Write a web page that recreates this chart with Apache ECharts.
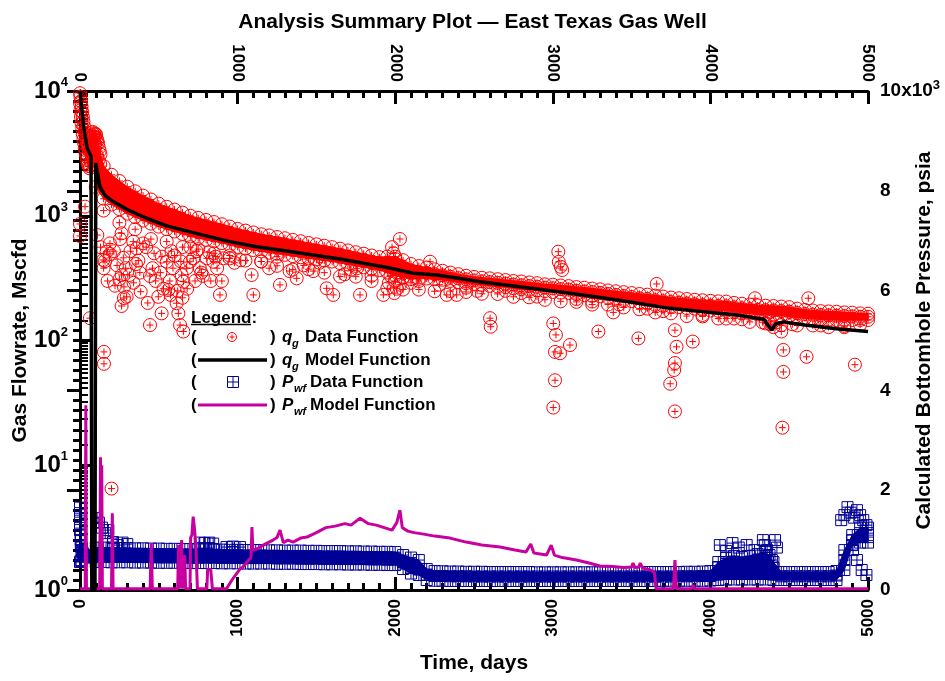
<!DOCTYPE html>
<html><head><meta charset="utf-8">
<script src="https://cdn.jsdelivr.net/npm/echarts@6/dist/echarts.min.js"></script>
<style>html,body{margin:0;padding:0;background:#fff}#c{width:945px;height:681px}</style>
</head><body><div id="c"></div>
<script>
// ---------------- data ----------------
const xTickValues = [0, 1000, 2000, 3000, 4000, 5000];
const leftTickExponents = ['0', '1', '2', '3', '4'];
const rightTickLabels = ['0', '2', '4', '6', '8', '10x10'];

// q_g data: dense band, 3 rows (upper, middle, lower) sampled every 50 days
const bandDays = [100,150,200,250,300,350,400,450,500,550,600,650,700,750,800,850,900,950,1000,1050,1100,1150,1200,1250,1300,1350,1400,1450,1500,1550,1600,1650,1700,1750,1800,1850,1900,1950,2000,2050,2100,2150,2200,2250,2300,2350,2400,2450,2500,2550,2600,2650,2700,2750,2800,2850,2900,2950,3000,3050,3100,3150,3200,3250,3300,3350,3400,3450,3500,3550,3600,3650,3700,3750,3800,3850,3900,3950,4000,4050,4100,4150,4200,4250,4300,4350,4400,4450,4500,4550,4600,4650,4700,4750,4800,4850,4900,4950,5000];
const qgTop = [4500,2500,2130,1900,1710,1570,1450,1350,1250,1180,1120,1060,1000,960,925,890,855,820,785,760,735,710,695,675,660,640,625,605,590,575,560,545,527,510,496,480,466,470,470,440,410,395,385,372,362,350,340,330,323,318,315,310,305,300,297,292,288,282,280,276,273,268,265,261,257,252,248,244,240,236,233,229,225,221,218,215,212,210,208,206,205,200,197,194,191,190,189,187,185,180,176,174,172,171,170,168,167,165,164];
const qgMid = [2800,1850,1620,1470,1330,1240,1150,1080,1010,960,915,870,825,795,770,745,718,690,665,645,625,607,593,580,566,551,539,525,513,501,490,477,463,449,438,425,414,405,395,375,357,350,348,340,333,324,316,309,303,298,294,290,286,281,277,273,270,265,262,258,256,251,247,244,241,236,232,227,223,218,215,210,206,203,201,198,195,192,190,189,188,184,181,178,176,175,174,172,170,166,163,161,160,159,158,157,156,155,155];
const qgLow = [1700,1370,1230,1130,1040,975,915,865,818,780,748,715,683,660,641,622,604,582,562,546,531,518,506,496,486,475,465,455,446,437,429,418,407,396,386,376,367,350,331,320,311,312,314,310,307,300,293,288,284,279,274,271,268,263,258,255,253,249,245,242,240,235,231,228,226,221,216,211,207,202,198,193,189,187,185,182,180,177,174,173,173,170,167,164,162,161,160,158,156,153,151,150,148,147,146,146,146,146,146];
// q_g data: fringe of points just below the dense band, every 100 days
const fringeDays = [150,250,350,450,550,650,750,850,950,1050,1150,1250,1350,1450,1550,1650,1750,1850,1950,2050,2150,2250,2350,2450,2550,2650,2750,2850,2950,3050,3150,3250,3350,3450,3550,3650,3750,3850,3950,4050,4150,4250,4350,4450,4550,4650,4750,4850,4950];
const qgFringe = [1100,880,780,650,620,560,540,500,455,437,430,397,370,373,350,326,325,300,262,256,256,248,249,245,237,236,224,222,212,206,204,194,194,184,178,168,165,157,156,150,150,141,137,133,132,132,128,131,134];
// q_g data: first days of production
const qgEarlyDays = [0,3,6,10,14,18,22,26,30,35,40,45,50,55,60,65,70,75,80,85,90,95];
const qgEarlyHigh = [9600,9000,8300,7500,6800,6200,5700,5200,4800,4400,4100,3800,3600,3400,3300,3500,3900,4200,4400,4300,4100,3800];
const qgEarlyLow = [8000,7000,6200,5500,5000,4500,4100,3800,3500,3200,3000,2800,2600,2500,2400,2500,2700,3000,3200,3000,2800,2600];
const qgRestartDays = [80,85,90,95,100,105,110,115,120,125,130,88,98,108,118,128];
const qgRestart = [4700,4500,4600,4300,4500,4200,4000,3800,3500,3300,3100,3400,3600,3000,2800,2600];
// q_g data: scattered points off the band
const qgOutDays = [0,0,32,63,152,152,200,159,190,314,279,279,169,148,264,254,338,360,370,264,222,296,264,385,444,550,497,560,575,613,518,624,444,635,656,656,645,677,698,719,804,846,910,888,1089,1100,1269,1375,1565,1607,1756,1777,2030,1925,2221,2327,2390,1980,1990,2000,2010,2020,2000,2010,1995,2030,2050,1970,1960,3035,3038,3050,3060,2602,2606,3003,3020,3014,3046,3109,3014,3003,3289,3384,3543,3659,3775,3785,3775,3770,3745,3775,3888,4283,4463,4463,4457,4610,4917,4621,4380,4400,4420,4450,
  420,470,520,580,600,640,700,740,760,780,820,860,900,950,980,1020,1150,1200,1250,1330,1420,1480,1520,1680,1720,1850,2100,2150,2280,2450,2520,2700,2800,2900,3150,3250,3420,3600,3700,3950,4100,4200,4330,4520,4700,4850,
  110,130,150,175,190,215,235,250,275,290,320,340,355,380,400,430,460,480,510,530,570,590,620,650,680,730,770,830,870];
const qgOut = [859,689,1183,151,81,65,6.5,433,494,335,269,219,515,442,723,651,620,548,437,335,275,224,189,246,329,428,224,254,232,199,165,165,133,133,118,296,335,379,428,456,456,428,456,232,335,232,279,315,262,232,379,232,651,232,428,232,232,560,500,450,400,350,300,260,240,280,320,330,290,515,427,390,367,151,129,137,111,81,79,92,48,29,118,168,104,284,121,89,66,58,45,27,98,218,84,56,20,74,64,218,135,128,140,118,
  560,500,470,520,480,430,560,520,380,330,510,470,300,480,420,440,430,380,470,360,400,360,420,340,370,330,290,300,280,265,250,250,240,225,215,205,195,180,172,160,150,148,140,135,132,128,
  700,560,380,300,600,520,400,310,460,380,520,290,410,350,600,200,380,300,350,260,300,380,250,220,260,300,350,300,380];
// q_g model
const qgModelDays = [0,10,25,45,70,75,95,100,127,160,211,300,423,550,781,950,1121,1300,1480,1650,1798,1950,2115,2200,2263,2400,2538,2800,3109,3400,3744,4000,4167,4294,4340,4370,4389,4410,4463,4600,4800,5000];
const qgModel = [10000,7500,5000,3500,3000,1,1,2650,1700,1450,1300,1120,955,830,700,620,565,525,484,450,416,385,346,340,335,315,296,268,239,212,181,168,160,151,148,130,121,135,141,133,124,118];

// P_wf data: dense band, 3 rows every 50 days (same days as bandDays)
const pwfTop = [850,850,845,840,840,835,835,830,830,825,825,820,820,815,815,810,810,805,805,800,800,800,795,795,790,790,790,785,785,780,780,780,775,775,770,770,765,765,760,700,650,600,420,380,375,370,370,365,365,365,360,360,360,360,360,360,355,355,355,355,355,355,355,355,355,355,355,355,355,355,360,360,360,360,360,365,365,370,380,560,640,680,660,680,720,760,560,360,360,360,360,360,360,360,380,800,1100,1250,1250];
const pwfMid = [700,700,695,695,690,690,690,685,685,685,680,680,680,675,675,675,670,670,670,665,665,665,660,660,660,655,655,655,650,650,650,645,645,645,640,640,640,635,635,560,470,420,300,280,280,275,275,275,270,270,270,270,270,270,270,270,270,270,270,270,270,270,270,270,270,270,270,270,270,270,270,270,270,270,275,275,275,280,280,460,520,560,540,560,600,640,440,275,275,275,275,275,275,275,290,600,1000,1100,1100];
const pwfLow = [560,560,555,555,555,550,550,550,545,545,545,545,540,540,540,540,535,535,535,530,530,530,530,525,525,525,520,520,520,515,515,515,510,510,510,505,505,500,500,420,330,300,200,185,185,180,180,180,180,180,180,180,180,180,180,180,180,180,180,180,180,180,180,180,180,180,180,180,180,180,180,180,185,185,185,185,185,185,190,200,210,210,210,210,210,210,200,200,200,200,200,200,200,200,200,400,900,950,950];
// P_wf data: early days and scattered points above the band
const pwfOutDays = [0,0,0,0,5,5,5,10,10,15,20,25,30,40,50,60,70,0,5,10,108,120,140,160,180,209,210,240,270,300,760,790,820,845,930,970,1015,4060,4100,4140,4180,4230,4280,4333,4345,4360,4375,4390,4410,4422,4830,4850,4870,4890,4910,4930,4950,4970,4990,4905,4930,4960,4990];
const pwfOut = [1650,1500,1350,1200,1100,1000,900,850,800,760,720,700,690,680,670,660,650,560,580,600,1440,1350,1250,1140,1200,960,930,900,950,920,950,940,950,930,860,870,860,900,780,940,850,900,800,1000,900,800,700,600,1000,850,1400,1500,1660,1550,1450,1600,1500,1400,1300,800,600,400,300];
// P_wf model
const pwfModelDays = [0,33,37,41,125,130,134,138,142,200,205,210,445,452,459,620,625,630,640,645,650,660,665,670,698,702,710,718,726,735,745,805,810,820,830,840,930,952,975,996,1015,1034,1060,1085,1091,1097,1120,1142,1180,1225,1250,1269,1290,1320,1352,1400,1440,1500,1560,1620,1680,1720,1777,1830,1880,1930,1980,2010,2030,2045,2080,2120,2180,2250,2348,2450,2550,2665,2760,2830,2860,2880,2920,2960,2990,3010,3060,3150,3230,3299,3380,3450,3500,3509,3520,3545,3555,3570,3620,3645,3655,3765,3775,3785,3880,3890,3900,5000];
const pwfModel = [25,25,3700,25,25,2660,25,2500,25,25,1540,25,25,940,25,25,900,25,25,1000,25,25,700,25,25,1050,1100,1470,1250,900,25,25,420,380,400,25,25,140,250,340,420,460,560,650,1263,800,820,860,930,1000,1050,1200,950,1000,960,1040,1060,1150,1250,1280,1330,1300,1440,1330,1300,1250,1200,1350,1600,1250,1180,1150,1120,1080,1040,960,900,860,800,760,920,740,720,700,900,700,650,600,540,480,470,450,460,540,450,460,540,440,400,350,25,25,600,25,25,100,25,25];

// ---------------- styling ----------------
const FONT = '"Liberation Sans", Arial, Helvetica, sans-serif';
const RED = '#ff0000', NAVY = '#000096', MAG = '#c800a0';

function zipPts(xs, ys) { return xs.map((x, i) => [x, ys[i]]); }
const qgDataPts = [].concat(
  zipPts(qgEarlyDays, qgEarlyHigh), zipPts(qgEarlyDays, qgEarlyLow), zipPts(qgRestartDays, qgRestart),
  zipPts(bandDays, qgTop), zipPts(bandDays, qgMid), zipPts(bandDays, qgLow),
  zipPts(fringeDays, qgFringe), zipPts(qgOutDays, qgOut));
const pwfDataPts = [].concat(
  zipPts(bandDays, pwfTop), zipPts(bandDays, pwfMid), zipPts(bandDays, pwfLow),
  zipPts(pwfOutDays, pwfOut));
// envelopes of the dense clouds (upper edge then lower edge reversed)
const qgCloudUpper = zipPts(qgEarlyDays, qgEarlyHigh).concat(zipPts(bandDays, qgTop));
const qgCloudLower = zipPts(qgEarlyDays, qgEarlyLow).concat(zipPts(bandDays, qgLow));
const pwfCloudUpper = zipPts(bandDays, pwfTop);
const pwfCloudLower = zipPts(bandDays, pwfLow);

function cloudRenderer(upper, lower, color) {
  return function (params, api) {
    const pts = upper.map(d => api.coord(d)).concat(lower.slice().reverse().map(d => api.coord(d)));
    return { type: 'polygon', shape: { points: pts }, style: { fill: color, stroke: color, lineWidth: 1 } };
  };
}
function circlePlus(params, api) {
  const p = api.coord([api.value(0), api.value(1)]);
  const st = { stroke: RED, lineWidth: 1, fill: null };
  return { type: 'group', children: [
    { type: 'circle', shape: { cx: p[0], cy: p[1], r: 6.5 }, style: st },
    { type: 'line', shape: { x1: p[0] - 3.5, y1: p[1], x2: p[0] + 3.5, y2: p[1] }, style: st },
    { type: 'line', shape: { x1: p[0], y1: p[1] - 3.5, x2: p[0], y2: p[1] + 3.5 }, style: st }
  ]};
}
function gridSquare(params, api) {
  const p = api.coord([api.value(0), api.value(1)]);
  const h = 5.5, st = { stroke: NAVY, lineWidth: 1, fill: null };
  return { type: 'group', children: [
    { type: 'rect', shape: { x: p[0] - h, y: p[1] - h, width: 2 * h, height: 2 * h }, style: st },
    { type: 'line', shape: { x1: p[0] - h, y1: p[1], x2: p[0] + h, y2: p[1] }, style: st },
    { type: 'line', shape: { x1: p[0], y1: p[1] - h, x2: p[0], y2: p[1] + h }, style: st }
  ]};
}

const axisLineStyle = { show: true, lineStyle: { color: '#000', width: 3 } };
const nameStyle = { fontFamily: FONT, fontWeight: 'bold', fontSize: 21, color: '#000' };
const xAxisCommon = {
  type: 'value', min: 0, max: 5000, interval: 1000,
  axisLine: axisLineStyle,
  axisTick: { show: true, inside: true, length: 13, lineStyle: { color: '#000', width: 3 } },
  minorTick: { show: true, splitNumber: 10, length: 7, lineStyle: { color: '#000', width: 3 } },
  splitLine: { show: false }, minorSplitLine: { show: false },
  axisLabel: { rotate: 90, margin: 9, color: '#000', fontFamily: FONT, fontWeight: 'bold', fontSize: 17,
    hideOverlap: false, formatter: v => String(xTickValues[xTickValues.indexOf(v)]) }
};

const LF = 'bold 17px ' + FONT, LI = 'italic bold 17px ' + FONT, LS = 'italic bold 11px ' + FONT;
const option = {
  backgroundColor: '#fff',
  animation: false,
  title: { text: 'Analysis Summary Plot — East Texas Gas Well', left: 'center', top: 7,
    textStyle: { fontFamily: FONT, fontWeight: 'bold', fontSize: 21, color: '#000' } },
  grid: { left: 80, top: 91, width: 788, height: 499, containLabel: false, outerBoundsMode: 'none' },
  xAxis: [
    Object.assign({}, xAxisCommon, { position: 'bottom', name: 'Time, days', nameLocation: 'middle', nameGap: 63,
      nameMoveOverlap: false, nameTextStyle: nameStyle }),
    Object.assign({}, xAxisCommon, { position: 'top' })
  ],
  yAxis: [
    { type: 'log', logBase: 10, min: 1, max: 10000, position: 'left',
      axisLine: axisLineStyle,
      axisTick: { show: true, inside: true, length: 13, lineStyle: { color: '#000', width: 3 } },
      minorTick: { show: true, splitNumber: 20, length: 8, lineStyle: { color: '#000', width: 2 } },
      splitLine: { show: false }, minorSplitLine: { show: false },
      axisLabel: { margin: 12, color: '#000', fontFamily: FONT, fontWeight: 'bold', hideOverlap: false,
        formatter: v => '{b|10}{s|' + leftTickExponents[Math.round(Math.log10(v))] + '}',
        rich: { b: { fontFamily: FONT, fontWeight: 'bold', fontSize: 24, color: '#000', lineHeight: 30 },
                s: { fontFamily: FONT, fontWeight: 'bold', fontSize: 13, color: '#000', verticalAlign: 'top', lineHeight: 15 } } },
      name: 'Gas Flowrate, Mscfd', nameLocation: 'middle', nameGap: 49, nameRotate: 90, nameMoveOverlap: false,
      nameTextStyle: nameStyle },
    { type: 'value', min: 0, max: 10000, interval: 2000, position: 'right',
      axisLine: axisLineStyle,
      axisTick: { show: true, inside: true, length: 13, lineStyle: { color: '#000', width: 3 } },
      minorTick: { show: true, splitNumber: 10, length: 7, lineStyle: { color: '#000', width: 3 } },
      splitLine: { show: false }, minorSplitLine: { show: false },
      axisLabel: { margin: 12, color: '#000', fontFamily: FONT, fontWeight: 'bold', fontSize: 18, hideOverlap: false,
        formatter: v => { const l = rightTickLabels[Math.round(v / 2000)]; return v === 10000 ? '{b|' + l + '}{s|3}' : '{b|' + l + '}'; },
        rich: { b: { fontFamily: FONT, fontWeight: 'bold', fontSize: 19, color: '#000', lineHeight: 24 },
                s: { fontFamily: FONT, fontWeight: 'bold', fontSize: 13, color: '#000', verticalAlign: 'top', lineHeight: 13 } } },
      name: 'Calculated Bottomhole Pressure, psia', nameLocation: 'middle', nameGap: 46, nameRotate: 90, nameMoveOverlap: false,
      nameTextStyle: nameStyle }
  ],
  series: [
    { type: 'custom', name: 'qg cloud', xAxisIndex: 0, yAxisIndex: 0, renderItem: cloudRenderer(qgCloudUpper, qgCloudLower, RED),
      data: [qgCloudUpper[0]], encode: { x: 0, y: 1 }, z: 1, clip: false, silent: true },
    { type: 'custom', name: 'qg data', xAxisIndex: 0, yAxisIndex: 0, renderItem: circlePlus, data: qgDataPts,
      encode: { x: 0, y: 1 }, z: 1, clip: false, silent: true },
    { type: 'custom', name: 'pwf cloud', xAxisIndex: 0, yAxisIndex: 1, renderItem: cloudRenderer(pwfCloudUpper, pwfCloudLower, NAVY),
      data: [pwfCloudUpper[0]], encode: { x: 0, y: 1 }, z: 2, clip: false, silent: true },
    { type: 'custom', name: 'pwf data', xAxisIndex: 0, yAxisIndex: 1, renderItem: gridSquare, data: pwfDataPts,
      encode: { x: 0, y: 1 }, z: 2, clip: false, silent: true },
    { type: 'line', name: 'pwf model', xAxisIndex: 0, yAxisIndex: 1, data: zipPts(pwfModelDays, pwfModel),
      showSymbol: false, symbol: 'none', lineStyle: { color: MAG, width: 3 }, z: 3, clip: true },
    { type: 'line', name: 'qg model', xAxisIndex: 0, yAxisIndex: 0, data: zipPts(qgModelDays, qgModel),
      showSymbol: false, symbol: 'none', lineStyle: { color: '#000', width: 3.5 }, z: 4, clip: true }
  ],
  graphic: [
    { type: 'rect', shape: { x: 190, y: 304, width: 252, height: 112 }, style: { fill: '#fff' }, z: 50 },
    { type: 'text', x: 191, y: 310, style: { text: 'Legend:', font: LF, fill: '#000' }, z: 51 },
    { type: 'line', shape: { x1: 191, y1: 324.5, x2: 251, y2: 324.5 }, style: { stroke: '#000', lineWidth: 1.5 }, z: 51 },
    { type: 'text', x: 191, y: 329, style: { text: '(', font: LF, fill: '#000' }, z: 51 },
    { type: 'circle', shape: { cx: 232, cy: 337, r: 4.5 }, style: { stroke: RED, fill: null, lineWidth: 1 }, z: 51 },
    { type: 'line', shape: { x1: 229.5, y1: 337, x2: 234.5, y2: 337 }, style: { stroke: RED, lineWidth: 1 }, z: 51 },
    { type: 'line', shape: { x1: 232, y1: 334.5, x2: 232, y2: 339.5 }, style: { stroke: RED, lineWidth: 1 }, z: 51 },
    { type: 'text', x: 270, y: 329, style: { text: ')', font: LF, fill: '#000' }, z: 51 },
    { type: 'text', x: 282, y: 329, style: { text: 'q', font: LI, fill: '#000' }, z: 51 },
    { type: 'text', x: 292, y: 338, style: { text: 'g', font: LS, fill: '#000' }, z: 51 },
    { type: 'text', x: 305, y: 329, style: { text: 'Data Function', font: LF, fill: '#000' }, z: 51 },
    { type: 'text', x: 191, y: 352, style: { text: '(', font: LF, fill: '#000' }, z: 51 },
    { type: 'line', shape: { x1: 198, y1: 360, x2: 267, y2: 360 }, style: { stroke: '#000', lineWidth: 3.5 }, z: 51 },
    { type: 'text', x: 270, y: 352, style: { text: ')', font: LF, fill: '#000' }, z: 51 },
    { type: 'text', x: 282, y: 352, style: { text: 'q', font: LI, fill: '#000' }, z: 51 },
    { type: 'text', x: 292, y: 361, style: { text: 'g', font: LS, fill: '#000' }, z: 51 },
    { type: 'text', x: 305, y: 352, style: { text: 'Model Function', font: LF, fill: '#000' }, z: 51 },
    { type: 'text', x: 191, y: 374, style: { text: '(', font: LF, fill: '#000' }, z: 51 },
    { type: 'rect', shape: { x: 227.5, y: 376.5, width: 11, height: 11 }, style: { stroke: NAVY, fill: null, lineWidth: 1 }, z: 51 },
    { type: 'line', shape: { x1: 227.5, y1: 382, x2: 238.5, y2: 382 }, style: { stroke: NAVY, lineWidth: 1 }, z: 51 },
    { type: 'line', shape: { x1: 233, y1: 376.5, x2: 233, y2: 387.5 }, style: { stroke: NAVY, lineWidth: 1 }, z: 51 },
    { type: 'text', x: 270, y: 374, style: { text: ')', font: LF, fill: '#000' }, z: 51 },
    { type: 'text', x: 282, y: 374, style: { text: 'P', font: LI, fill: '#000' }, z: 51 },
    { type: 'text', x: 294, y: 383, style: { text: 'wf', font: LS, fill: '#000' }, z: 51 },
    { type: 'text', x: 310, y: 374, style: { text: 'Data Function', font: LF, fill: '#000' }, z: 51 },
    { type: 'text', x: 191, y: 397, style: { text: '(', font: LF, fill: '#000' }, z: 51 },
    { type: 'line', shape: { x1: 198, y1: 405, x2: 267, y2: 405 }, style: { stroke: MAG, lineWidth: 3 }, z: 51 },
    { type: 'text', x: 270, y: 397, style: { text: ')', font: LF, fill: '#000' }, z: 51 },
    { type: 'text', x: 282, y: 397, style: { text: 'P', font: LI, fill: '#000' }, z: 51 },
    { type: 'text', x: 294, y: 406, style: { text: 'wf', font: LS, fill: '#000' }, z: 51 },
    { type: 'text', x: 310, y: 397, style: { text: 'Model Function', font: LF, fill: '#000' }, z: 51 }
  ]
};
const chart = echarts.init(document.getElementById('c'), null, { renderer: 'canvas' });
chart.setOption(option);
</script>
</body></html>
